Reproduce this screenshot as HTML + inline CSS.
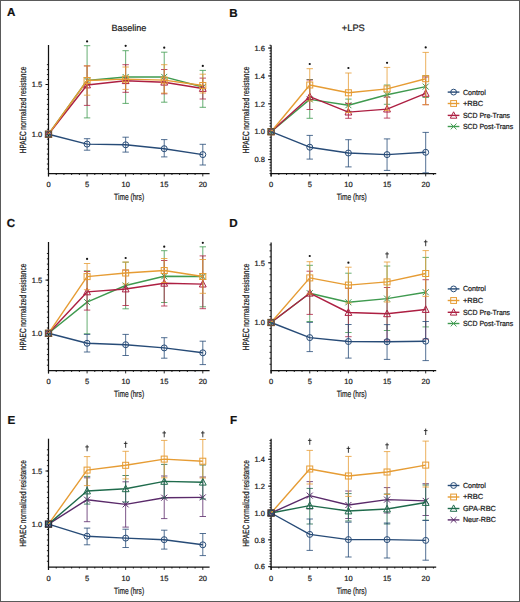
<!DOCTYPE html>
<html><head><meta charset="utf-8"><title>HPAEC normalized resistance</title>
<style>html,body{margin:0;padding:0;background:#fff;}body{width:520px;height:602px;overflow:hidden;font-family:"Liberation Sans",sans-serif;}svg{display:block;}svg text{stroke:currentColor;stroke-width:0.22px;paint-order:stroke;text-rendering:geometricPrecision;}svg{color:#1a1a1a;}</style>
</head><body>
<svg width="520" height="602" viewBox="0 0 520 602">
<rect x="0" y="0" width="520" height="602" fill="#fff"/>
<g font-family="Liberation Sans, sans-serif" font-weight="bold" font-size="11.6" fill="#111">
<text x="6.9" y="16.3">A</text>
<text x="229.3" y="16.5">B</text>
<text x="6.8" y="226.9">C</text>
<text x="229.3" y="226.6">D</text>
<text x="7.4" y="423.9">E</text>
<text x="230" y="423.9">F</text>
</g>
<text x="129" y="30.6" text-anchor="middle" font-family="Liberation Sans, sans-serif" font-size="9.1" fill="#1a1a1a">Baseline</text>
<text x="353.3" y="30.6" text-anchor="middle" font-family="Liberation Sans, sans-serif" font-size="9.3" fill="#1a1a1a">+LPS</text>
<g stroke="#111" fill="none">
<path d="M48.5 45V176.4" stroke-width="1.25"/>
<path d="M47.9 173.5H209.6" stroke-width="1.25"/>
<path d="M46.9 168.99H48.5M46.9 164.02H48.5M46.9 159.05H48.5M46.9 154.08H48.5M46.9 149.11H48.5M46.9 144.14H48.5M46.9 139.17H48.5M46.9 134.2H48.5M46.9 129.23H48.5M46.9 124.26H48.5M46.9 119.29H48.5M46.9 114.32H48.5M46.9 109.35H48.5M46.9 104.38H48.5M46.9 99.41H48.5M46.9 94.44H48.5M46.9 89.47H48.5M46.9 84.5H48.5M46.9 79.53H48.5M46.9 74.56H48.5M46.9 69.59H48.5M46.9 64.62H48.5" stroke-width="0.9"/>
<path d="M45.5 134.2H48.5M45.5 84.5H48.5" stroke-width="1"/>
<path d="M48.5 173.5V176.4M56.22 173.5V175M63.93 173.5V175M71.64 173.5V175M79.36 173.5V175M87.08 173.5V176.4M94.79 173.5V175M102.5 173.5V175M110.22 173.5V175M117.94 173.5V175M125.65 173.5V176.4M133.37 173.5V175M141.08 173.5V175M148.8 173.5V175M156.51 173.5V175M164.22 173.5V176.4M171.94 173.5V175M179.66 173.5V175M187.37 173.5V175M195.09 173.5V175M202.8 173.5V176.4" stroke-width="0.9"/>
</g>
<g font-family="Liberation Sans, sans-serif" font-size="7.5" fill="#1a1a1a">
<text x="42.3" y="136.9" text-anchor="end">1.0</text>
<text x="42.3" y="87.2" text-anchor="end">1.5</text>
<text x="48.5" y="187.1" text-anchor="middle">0</text>
<text x="87.08" y="187.1" text-anchor="middle">5</text>
<text x="125.65" y="187.1" text-anchor="middle">10</text>
<text x="164.22" y="187.1" text-anchor="middle">15</text>
<text x="202.8" y="187.1" text-anchor="middle">20</text>
</g>
<text x="114.1" y="200.3" font-family="Liberation Sans, sans-serif" font-size="9.2" fill="#1a1a1a" textLength="30" lengthAdjust="spacingAndGlyphs">Time (hrs)</text>
<text transform="translate(25.9 110) rotate(-90)" x="0" y="0" text-anchor="middle" font-family="Liberation Sans, sans-serif" font-size="9" fill="#1a1a1a" textLength="86.5" lengthAdjust="spacingAndGlyphs">HPAEC normalized resistance</text>
<path d="M87.08 45.7V117.9M83.88 45.7H90.28M83.88 117.9H90.28M125.65 50.7V103.4M122.45 50.7H128.85M122.45 103.4H128.85M164.22 52.2V102.2M161.03 52.2H167.42M161.03 102.2H167.42M202.8 70.4V107.3M199.6 70.4H206M199.6 107.3H206" stroke="#3f9a4f" stroke-width="0.8" fill="none"/>
<path d="M48.5 134.2L87.08 80.5L125.65 77L164.22 76.9L202.8 87" stroke="#3f9a4f" stroke-width="1.4" fill="none" stroke-linejoin="round"/>
<path d="M45.5 131.2L51.5 137.2M45.5 137.2L51.5 131.2" stroke="#3f9a4f" stroke-width="1.0" fill="none"/>
<path d="M84.08 77.5L90.08 83.5M84.08 83.5L90.08 77.5" stroke="#3f9a4f" stroke-width="1.0" fill="none"/>
<path d="M122.65 74L128.65 80M122.65 80L128.65 74" stroke="#3f9a4f" stroke-width="1.0" fill="none"/>
<path d="M161.22 73.9L167.22 79.9M161.22 79.9L167.22 73.9" stroke="#3f9a4f" stroke-width="1.0" fill="none"/>
<path d="M199.8 84L205.8 90M199.8 90L205.8 84" stroke="#3f9a4f" stroke-width="1.0" fill="none"/>
<path d="M87.08 65.9V105.4M83.88 65.9H90.28M83.88 105.4H90.28M125.65 64.7V92.3M122.45 64.7H128.85M122.45 92.3H128.85M164.22 69.5V93.8M161.03 69.5H167.42M161.03 93.8H167.42M202.8 78.1V99M199.6 78.1H206M199.6 99H206" stroke="#ad1f42" stroke-width="0.8" fill="none"/>
<path d="M48.5 134.2L87.08 85L125.65 80.7L164.22 82.2L202.8 88.5" stroke="#ad1f42" stroke-width="1.4" fill="none" stroke-linejoin="round"/>
<polygon points="48.5,130.5 45.1,137.1 51.9,137.1" fill="none" stroke="#ad1f42" stroke-width="1.0" stroke-linejoin="miter"/>
<polygon points="87.08,81.3 83.67,87.9 90.48,87.9" fill="none" stroke="#ad1f42" stroke-width="1.0" stroke-linejoin="miter"/>
<polygon points="125.65,77 122.25,83.6 129.05,83.6" fill="none" stroke="#ad1f42" stroke-width="1.0" stroke-linejoin="miter"/>
<polygon points="164.22,78.5 160.82,85.1 167.62,85.1" fill="none" stroke="#ad1f42" stroke-width="1.0" stroke-linejoin="miter"/>
<polygon points="202.8,84.8 199.4,91.4 206.2,91.4" fill="none" stroke="#ad1f42" stroke-width="1.0" stroke-linejoin="miter"/>
<path d="M87.08 65.9V95.2M83.88 65.9H90.28M83.88 95.2H90.28M125.65 67V89.4M122.45 67H128.85M122.45 89.4H128.85M164.22 64.7V93.1M161.03 64.7H167.42M161.03 93.1H167.42M202.8 74.2V93M199.6 74.2H206M199.6 93H206" stroke="#e69c34" stroke-width="0.8" fill="none"/>
<path d="M48.5 134.2L87.08 80.5L125.65 79.1L164.22 80.1L202.8 85.5" stroke="#e69c34" stroke-width="1.4" fill="none" stroke-linejoin="round"/>
<rect x="45.5" y="131.2" width="6" height="6" fill="none" stroke="#e69c34" stroke-width="1.0"/>
<rect x="84.08" y="77.5" width="6" height="6" fill="none" stroke="#e69c34" stroke-width="1.0"/>
<rect x="122.65" y="76.1" width="6" height="6" fill="none" stroke="#e69c34" stroke-width="1.0"/>
<rect x="161.22" y="77.1" width="6" height="6" fill="none" stroke="#e69c34" stroke-width="1.0"/>
<rect x="199.8" y="82.5" width="6" height="6" fill="none" stroke="#e69c34" stroke-width="1.0"/>
<path d="M87.08 138.7V150.2M83.88 138.7H90.28M83.88 150.2H90.28M125.65 137.2V152.1M122.45 137.2H128.85M122.45 152.1H128.85M164.22 139.6V156.9M161.03 139.6H167.42M161.03 156.9H167.42M202.8 144.3V165M199.6 144.3H206M199.6 165H206" stroke="#274b77" stroke-width="0.8" fill="none"/>
<path d="M48.5 134.2L87.08 144.1L125.65 144.8L164.22 148.7L202.8 154.6" stroke="#274b77" stroke-width="1.4" fill="none" stroke-linejoin="round"/>
<circle cx="48.5" cy="134.2" r="3" fill="none" stroke="#274b77" stroke-width="1.0"/>
<circle cx="87.08" cy="144.1" r="3" fill="none" stroke="#274b77" stroke-width="1.0"/>
<circle cx="125.65" cy="144.8" r="3" fill="none" stroke="#274b77" stroke-width="1.0"/>
<circle cx="164.22" cy="148.7" r="3" fill="none" stroke="#274b77" stroke-width="1.0"/>
<circle cx="202.8" cy="154.6" r="3" fill="none" stroke="#274b77" stroke-width="1.0"/>
<rect x="45.4" y="131.1" width="6.2" height="6.2" fill="none" stroke="#6b5238" stroke-width="1.1"/>
<circle cx="87.08" cy="41.4" r="1.1" fill="#111"/>
<circle cx="125.65" cy="45.8" r="1.1" fill="#111"/>
<circle cx="164.22" cy="47.7" r="1.1" fill="#111"/>
<circle cx="202.8" cy="65.9" r="1.1" fill="#111"/>
<g stroke="#111" fill="none">
<path d="M271.1 45.2V176.4" stroke-width="1.25"/>
<path d="M270.5 173.5H436.2" stroke-width="1.25"/>
<path d="M269.5 173.52H271.1M269.5 170.73H271.1M269.5 167.94H271.1M269.5 165.16H271.1M269.5 162.37H271.1M269.5 159.58H271.1M269.5 156.79H271.1M269.5 154H271.1M269.5 151.22H271.1M269.5 148.43H271.1M269.5 145.64H271.1M269.5 142.85H271.1M269.5 140.06H271.1M269.5 137.28H271.1M269.5 134.49H271.1M269.5 131.7H271.1M269.5 128.91H271.1M269.5 126.12H271.1M269.5 123.34H271.1M269.5 120.55H271.1M269.5 117.76H271.1M269.5 114.97H271.1M269.5 112.18H271.1M269.5 109.4H271.1M269.5 106.61H271.1M269.5 103.82H271.1M269.5 101.03H271.1M269.5 98.24H271.1M269.5 95.46H271.1M269.5 92.67H271.1M269.5 89.88H271.1M269.5 87.09H271.1M269.5 84.3H271.1M269.5 81.52H271.1M269.5 78.73H271.1M269.5 75.94H271.1M269.5 73.15H271.1M269.5 70.36H271.1M269.5 67.58H271.1M269.5 64.79H271.1M269.5 62H271.1M269.5 59.21H271.1M269.5 56.42H271.1M269.5 53.64H271.1M269.5 50.85H271.1M269.5 48.06H271.1M269.5 45.27H271.1" stroke-width="0.9"/>
<path d="M268.1 159.58H271.1M268.1 131.7H271.1M268.1 103.82H271.1M268.1 75.94H271.1M268.1 48.06H271.1" stroke-width="1"/>
<path d="M271.1 173.5V176.4M278.83 173.5V175M286.56 173.5V175M294.29 173.5V175M302.02 173.5V175M309.75 173.5V176.4M317.48 173.5V175M325.21 173.5V175M332.94 173.5V175M340.67 173.5V175M348.4 173.5V176.4M356.13 173.5V175M363.86 173.5V175M371.59 173.5V175M379.32 173.5V175M387.05 173.5V176.4M394.78 173.5V175M402.51 173.5V175M410.24 173.5V175M417.97 173.5V175M425.7 173.5V176.4M433.43 173.5V175" stroke-width="0.9"/>
</g>
<g font-family="Liberation Sans, sans-serif" font-size="7.5" fill="#1a1a1a">
<text x="264.9" y="162.28" text-anchor="end">0.8</text>
<text x="264.9" y="134.4" text-anchor="end">1.0</text>
<text x="264.9" y="106.52" text-anchor="end">1.2</text>
<text x="264.9" y="78.64" text-anchor="end">1.4</text>
<text x="264.9" y="50.76" text-anchor="end">1.6</text>
<text x="271.1" y="187.1" text-anchor="middle">0</text>
<text x="309.75" y="187.1" text-anchor="middle">5</text>
<text x="348.4" y="187.1" text-anchor="middle">10</text>
<text x="387.05" y="187.1" text-anchor="middle">15</text>
<text x="425.7" y="187.1" text-anchor="middle">20</text>
</g>
<text x="336.7" y="200.3" font-family="Liberation Sans, sans-serif" font-size="9.2" fill="#1a1a1a" textLength="30" lengthAdjust="spacingAndGlyphs">Time (hrs)</text>
<text transform="translate(248.9 110) rotate(-90)" x="0" y="0" text-anchor="middle" font-family="Liberation Sans, sans-serif" font-size="9" fill="#1a1a1a" textLength="86.5" lengthAdjust="spacingAndGlyphs">HPAEC normalized resistance</text>
<path d="M309.75 79.5V118.3M306.55 79.5H312.95M306.55 118.3H312.95M348.4 99.1V111.3M345.2 99.1H351.6M345.2 111.3H351.6M387.05 85V104.3M383.85 85H390.25M383.85 104.3H390.25M425.7 75.7V97.5M422.5 75.7H428.9M422.5 97.5H428.9" stroke="#3f9a4f" stroke-width="0.8" fill="none"/>
<path d="M271.1 131.7L309.75 99.4L348.4 105.2L387.05 94.7L425.7 86.6" stroke="#3f9a4f" stroke-width="1.4" fill="none" stroke-linejoin="round"/>
<path d="M268.1 128.7L274.1 134.7M268.1 134.7L274.1 128.7" stroke="#3f9a4f" stroke-width="1.0" fill="none"/>
<path d="M306.75 96.4L312.75 102.4M306.75 102.4L312.75 96.4" stroke="#3f9a4f" stroke-width="1.0" fill="none"/>
<path d="M345.4 102.2L351.4 108.2M345.4 108.2L351.4 102.2" stroke="#3f9a4f" stroke-width="1.0" fill="none"/>
<path d="M384.05 91.7L390.05 97.7M384.05 97.7L390.05 91.7" stroke="#3f9a4f" stroke-width="1.0" fill="none"/>
<path d="M422.7 83.6L428.7 89.6M422.7 89.6L428.7 83.6" stroke="#3f9a4f" stroke-width="1.0" fill="none"/>
<path d="M309.75 80V109.5M306.55 80H312.95M306.55 109.5H312.95M348.4 103.4V118.3M345.2 103.4H351.6M345.2 118.3H351.6M387.05 97.1V118.1M383.85 97.1H390.25M383.85 118.1H390.25M425.7 77V104.7M422.5 77H428.9M422.5 104.7H428.9" stroke="#ad1f42" stroke-width="0.8" fill="none"/>
<path d="M271.1 131.7L309.75 96.7L348.4 112.1L387.05 109.1L425.7 93.4" stroke="#ad1f42" stroke-width="1.4" fill="none" stroke-linejoin="round"/>
<polygon points="271.1,128 267.7,134.6 274.5,134.6" fill="none" stroke="#ad1f42" stroke-width="1.0" stroke-linejoin="miter"/>
<polygon points="309.75,93 306.35,99.6 313.15,99.6" fill="none" stroke="#ad1f42" stroke-width="1.0" stroke-linejoin="miter"/>
<polygon points="348.4,108.4 345,115 351.8,115" fill="none" stroke="#ad1f42" stroke-width="1.0" stroke-linejoin="miter"/>
<polygon points="387.05,105.4 383.65,112 390.45,112" fill="none" stroke="#ad1f42" stroke-width="1.0" stroke-linejoin="miter"/>
<polygon points="425.7,89.7 422.3,96.3 429.1,96.3" fill="none" stroke="#ad1f42" stroke-width="1.0" stroke-linejoin="miter"/>
<path d="M309.75 68.7V101M306.55 68.7H312.95M306.55 101H312.95M348.4 73V112.5M345.2 73H351.6M345.2 112.5H351.6M387.05 67.4V110.4M383.85 67.4H390.25M383.85 110.4H390.25M425.7 52.4V104.7M422.5 52.4H428.9M422.5 104.7H428.9" stroke="#e69c34" stroke-width="0.8" fill="none"/>
<path d="M271.1 131.7L309.75 85L348.4 92.8L387.05 88.9L425.7 78.7" stroke="#e69c34" stroke-width="1.4" fill="none" stroke-linejoin="round"/>
<rect x="268.1" y="128.7" width="6" height="6" fill="none" stroke="#e69c34" stroke-width="1.0"/>
<rect x="306.75" y="82" width="6" height="6" fill="none" stroke="#e69c34" stroke-width="1.0"/>
<rect x="345.4" y="89.8" width="6" height="6" fill="none" stroke="#e69c34" stroke-width="1.0"/>
<rect x="384.05" y="85.9" width="6" height="6" fill="none" stroke="#e69c34" stroke-width="1.0"/>
<rect x="422.7" y="75.7" width="6" height="6" fill="none" stroke="#e69c34" stroke-width="1.0"/>
<path d="M309.75 135.4V159.1M306.55 135.4H312.95M306.55 159.1H312.95M348.4 139.7V166.9M345.2 139.7H351.6M345.2 166.9H351.6M387.05 138.9V170.4M383.85 138.9H390.25M383.85 170.4H390.25M425.7 132.4V172.8M422.5 132.4H428.9M422.5 172.8H428.9" stroke="#274b77" stroke-width="0.8" fill="none"/>
<path d="M271.1 131.7L309.75 147.2L348.4 153L387.05 154.6L425.7 152.3" stroke="#274b77" stroke-width="1.4" fill="none" stroke-linejoin="round"/>
<circle cx="271.1" cy="131.7" r="3" fill="none" stroke="#274b77" stroke-width="1.0"/>
<circle cx="309.75" cy="147.2" r="3" fill="none" stroke="#274b77" stroke-width="1.0"/>
<circle cx="348.4" cy="153" r="3" fill="none" stroke="#274b77" stroke-width="1.0"/>
<circle cx="387.05" cy="154.6" r="3" fill="none" stroke="#274b77" stroke-width="1.0"/>
<circle cx="425.7" cy="152.3" r="3" fill="none" stroke="#274b77" stroke-width="1.0"/>
<rect x="268" y="128.6" width="6.2" height="6.2" fill="none" stroke="#6b5238" stroke-width="1.1"/>
<circle cx="309.75" cy="64" r="1.1" fill="#111"/>
<circle cx="348.4" cy="68" r="1.1" fill="#111"/>
<circle cx="387.05" cy="62.8" r="1.1" fill="#111"/>
<circle cx="425.7" cy="47.4" r="1.1" fill="#111"/>
<g font-family="Liberation Sans, sans-serif" font-size="7.4" fill="#1a1a1a">
<path d="M447.7 92.1H459.4" stroke="#274b77" stroke-width="1.4"/>
<circle cx="453.6" cy="92.1" r="2.9" fill="none" stroke="#274b77" stroke-width="1.0"/>
<text x="462.9" y="94.5" textLength="23" lengthAdjust="spacingAndGlyphs">Control</text>
<path d="M447.7 103.5H459.4" stroke="#e69c34" stroke-width="1.4"/>
<rect x="450.7" y="100.6" width="5.8" height="5.8" fill="none" stroke="#e69c34" stroke-width="1.0"/>
<text x="462.9" y="105.9" textLength="20.4" lengthAdjust="spacingAndGlyphs">+RBC</text>
<path d="M447.7 115.4H459.4" stroke="#ad1f42" stroke-width="1.4"/>
<polygon points="453.6,111.81 450.3,118.19 456.9,118.19" fill="none" stroke="#ad1f42" stroke-width="1.0" stroke-linejoin="miter"/>
<text x="462.9" y="117.8" textLength="47.2" lengthAdjust="spacingAndGlyphs">SCD Pre-Trans</text>
<path d="M447.7 126.5H459.4" stroke="#3f9a4f" stroke-width="1.4"/>
<path d="M450.7 123.6L456.5 129.4M450.7 129.4L456.5 123.6" stroke="#3f9a4f" stroke-width="1.0" fill="none"/>
<text x="462.9" y="128.9" textLength="50.3" lengthAdjust="spacingAndGlyphs">SCD Post-Trans</text>
</g>
<g stroke="#111" fill="none">
<path d="M48.5 242V373.4" stroke-width="1.25"/>
<path d="M47.9 370.5H209.6" stroke-width="1.25"/>
<path d="M46.9 365.22H48.5M46.9 359.9H48.5M46.9 354.58H48.5M46.9 349.26H48.5M46.9 343.94H48.5M46.9 338.62H48.5M46.9 333.3H48.5M46.9 327.98H48.5M46.9 322.66H48.5M46.9 317.34H48.5M46.9 312.02H48.5M46.9 306.7H48.5M46.9 301.38H48.5M46.9 296.06H48.5M46.9 290.74H48.5M46.9 285.42H48.5M46.9 280.1H48.5M46.9 274.78H48.5M46.9 269.46H48.5M46.9 264.14H48.5M46.9 258.82H48.5M46.9 253.5H48.5" stroke-width="0.9"/>
<path d="M45.5 333.3H48.5M45.5 280.1H48.5" stroke-width="1"/>
<path d="M48.5 370.5V373.4M56.22 370.5V372M63.93 370.5V372M71.64 370.5V372M79.36 370.5V372M87.08 370.5V373.4M94.79 370.5V372M102.5 370.5V372M110.22 370.5V372M117.94 370.5V372M125.65 370.5V373.4M133.37 370.5V372M141.08 370.5V372M148.8 370.5V372M156.51 370.5V372M164.22 370.5V373.4M171.94 370.5V372M179.66 370.5V372M187.37 370.5V372M195.09 370.5V372M202.8 370.5V373.4" stroke-width="0.9"/>
</g>
<g font-family="Liberation Sans, sans-serif" font-size="7.5" fill="#1a1a1a">
<text x="42.3" y="336" text-anchor="end">1.0</text>
<text x="42.3" y="282.8" text-anchor="end">1.5</text>
<text x="48.5" y="384.1" text-anchor="middle">0</text>
<text x="87.08" y="384.1" text-anchor="middle">5</text>
<text x="125.65" y="384.1" text-anchor="middle">10</text>
<text x="164.22" y="384.1" text-anchor="middle">15</text>
<text x="202.8" y="384.1" text-anchor="middle">20</text>
</g>
<text x="114.1" y="397.3" font-family="Liberation Sans, sans-serif" font-size="9.2" fill="#1a1a1a" textLength="30" lengthAdjust="spacingAndGlyphs">Time (hrs)</text>
<text transform="translate(25.9 307) rotate(-90)" x="0" y="0" text-anchor="middle" font-family="Liberation Sans, sans-serif" font-size="9" fill="#1a1a1a" textLength="86.5" lengthAdjust="spacingAndGlyphs">HPAEC normalized resistance</text>
<path d="M87.08 270.8V333.8M83.88 270.8H90.28M83.88 333.8H90.28M125.65 262.2V308.8M122.45 262.2H128.85M122.45 308.8H128.85M164.22 250.7V302.5M161.03 250.7H167.42M161.03 302.5H167.42M202.8 246.8V306.8M199.6 246.8H206M199.6 306.8H206" stroke="#3f9a4f" stroke-width="0.8" fill="none"/>
<path d="M48.5 333.3L87.08 302.1L125.65 285.5L164.22 276.3L202.8 276.5" stroke="#3f9a4f" stroke-width="1.4" fill="none" stroke-linejoin="round"/>
<path d="M45.5 330.3L51.5 336.3M45.5 336.3L51.5 330.3" stroke="#3f9a4f" stroke-width="1.0" fill="none"/>
<path d="M84.08 299.1L90.08 305.1M84.08 305.1L90.08 299.1" stroke="#3f9a4f" stroke-width="1.0" fill="none"/>
<path d="M122.65 282.5L128.65 288.5M122.65 288.5L128.65 282.5" stroke="#3f9a4f" stroke-width="1.0" fill="none"/>
<path d="M161.22 273.3L167.22 279.3M161.22 279.3L167.22 273.3" stroke="#3f9a4f" stroke-width="1.0" fill="none"/>
<path d="M199.8 273.5L205.8 279.5M199.8 279.5L205.8 273.5" stroke="#3f9a4f" stroke-width="1.0" fill="none"/>
<path d="M87.08 271.5V310.1M83.88 271.5H90.28M83.88 310.1H90.28M125.65 270V305.5M122.45 270H128.85M122.45 305.5H128.85M164.22 260.5V306M161.03 260.5H167.42M161.03 306H167.42M202.8 255.9V308.7M199.6 255.9H206M199.6 308.7H206" stroke="#ad1f42" stroke-width="0.8" fill="none"/>
<path d="M48.5 333.3L87.08 291.9L125.65 289L164.22 283.3L202.8 284.1" stroke="#ad1f42" stroke-width="1.4" fill="none" stroke-linejoin="round"/>
<polygon points="48.5,329.6 45.1,336.2 51.9,336.2" fill="none" stroke="#ad1f42" stroke-width="1.0" stroke-linejoin="miter"/>
<polygon points="87.08,288.2 83.67,294.8 90.48,294.8" fill="none" stroke="#ad1f42" stroke-width="1.0" stroke-linejoin="miter"/>
<polygon points="125.65,285.3 122.25,291.9 129.05,291.9" fill="none" stroke="#ad1f42" stroke-width="1.0" stroke-linejoin="miter"/>
<polygon points="164.22,279.6 160.82,286.2 167.62,286.2" fill="none" stroke="#ad1f42" stroke-width="1.0" stroke-linejoin="miter"/>
<polygon points="202.8,280.4 199.4,287 206.2,287" fill="none" stroke="#ad1f42" stroke-width="1.0" stroke-linejoin="miter"/>
<path d="M87.08 263.5V289.7M83.88 263.5H90.28M83.88 289.7H90.28M125.65 262V284M122.45 262H128.85M122.45 284H128.85M164.22 258.5V282.5M161.03 258.5H167.42M161.03 282.5H167.42M202.8 259.5V293.3M199.6 259.5H206M199.6 293.3H206" stroke="#e69c34" stroke-width="0.8" fill="none"/>
<path d="M48.5 333.3L87.08 276.6L125.65 273L164.22 270.5L202.8 276.5" stroke="#e69c34" stroke-width="1.4" fill="none" stroke-linejoin="round"/>
<rect x="45.5" y="330.3" width="6" height="6" fill="none" stroke="#e69c34" stroke-width="1.0"/>
<rect x="84.08" y="273.6" width="6" height="6" fill="none" stroke="#e69c34" stroke-width="1.0"/>
<rect x="122.65" y="270" width="6" height="6" fill="none" stroke="#e69c34" stroke-width="1.0"/>
<rect x="161.22" y="267.5" width="6" height="6" fill="none" stroke="#e69c34" stroke-width="1.0"/>
<rect x="199.8" y="273.5" width="6" height="6" fill="none" stroke="#e69c34" stroke-width="1.0"/>
<path d="M87.08 334.4V352M83.88 334.4H90.28M83.88 352H90.28M125.65 334.4V355.5M122.45 334.4H128.85M122.45 355.5H128.85M164.22 337.7V358.2M161.03 337.7H167.42M161.03 358.2H167.42M202.8 341.2V364.6M199.6 341.2H206M199.6 364.6H206" stroke="#274b77" stroke-width="0.8" fill="none"/>
<path d="M48.5 333.3L87.08 343.3L125.65 344.7L164.22 347.9L202.8 352.8" stroke="#274b77" stroke-width="1.4" fill="none" stroke-linejoin="round"/>
<circle cx="48.5" cy="333.3" r="3" fill="none" stroke="#274b77" stroke-width="1.0"/>
<circle cx="87.08" cy="343.3" r="3" fill="none" stroke="#274b77" stroke-width="1.0"/>
<circle cx="125.65" cy="344.7" r="3" fill="none" stroke="#274b77" stroke-width="1.0"/>
<circle cx="164.22" cy="347.9" r="3" fill="none" stroke="#274b77" stroke-width="1.0"/>
<circle cx="202.8" cy="352.8" r="3" fill="none" stroke="#274b77" stroke-width="1.0"/>
<rect x="45.4" y="330.2" width="6.2" height="6.2" fill="none" stroke="#6b5238" stroke-width="1.1"/>
<circle cx="87.08" cy="258.9" r="1.1" fill="#111"/>
<circle cx="125.65" cy="258" r="1.1" fill="#111"/>
<circle cx="164.22" cy="246.7" r="1.1" fill="#111"/>
<circle cx="202.8" cy="242.8" r="1.1" fill="#111"/>
<g stroke="#111" fill="none">
<path d="M271.1 242.4V373.4" stroke-width="1.25"/>
<path d="M270.5 370.5H436.2" stroke-width="1.25"/>
<path d="M269.5 364.29H271.1M269.5 358.32H271.1M269.5 352.35H271.1M269.5 346.38H271.1M269.5 340.41H271.1M269.5 334.44H271.1M269.5 328.47H271.1M269.5 322.5H271.1M269.5 316.53H271.1M269.5 310.56H271.1M269.5 304.59H271.1M269.5 298.62H271.1M269.5 292.65H271.1M269.5 286.68H271.1M269.5 280.71H271.1M269.5 274.74H271.1M269.5 268.77H271.1M269.5 262.8H271.1M269.5 256.83H271.1M269.5 250.86H271.1M269.5 244.89H271.1" stroke-width="0.9"/>
<path d="M268.1 322.5H271.1M268.1 262.8H271.1" stroke-width="1"/>
<path d="M271.1 370.5V373.4M278.83 370.5V372M286.56 370.5V372M294.29 370.5V372M302.02 370.5V372M309.75 370.5V373.4M317.48 370.5V372M325.21 370.5V372M332.94 370.5V372M340.67 370.5V372M348.4 370.5V373.4M356.13 370.5V372M363.86 370.5V372M371.59 370.5V372M379.32 370.5V372M387.05 370.5V373.4M394.78 370.5V372M402.51 370.5V372M410.24 370.5V372M417.97 370.5V372M425.7 370.5V373.4M433.43 370.5V372" stroke-width="0.9"/>
</g>
<g font-family="Liberation Sans, sans-serif" font-size="7.5" fill="#1a1a1a">
<text x="264.9" y="325.2" text-anchor="end">1.0</text>
<text x="264.9" y="265.5" text-anchor="end">1.5</text>
<text x="271.1" y="384.1" text-anchor="middle">0</text>
<text x="309.75" y="384.1" text-anchor="middle">5</text>
<text x="348.4" y="384.1" text-anchor="middle">10</text>
<text x="387.05" y="384.1" text-anchor="middle">15</text>
<text x="425.7" y="384.1" text-anchor="middle">20</text>
</g>
<text x="336.7" y="397.3" font-family="Liberation Sans, sans-serif" font-size="9.2" fill="#1a1a1a" textLength="30" lengthAdjust="spacingAndGlyphs">Time (hrs)</text>
<text transform="translate(248.9 307) rotate(-90)" x="0" y="0" text-anchor="middle" font-family="Liberation Sans, sans-serif" font-size="9" fill="#1a1a1a" textLength="86.5" lengthAdjust="spacingAndGlyphs">HPAEC normalized resistance</text>
<path d="M309.75 265.3V321.5M306.55 265.3H312.95M306.55 321.5H312.95M348.4 273.2V332.5M345.2 273.2H351.6M345.2 332.5H351.6M387.05 266V330.5M383.85 266H390.25M383.85 330.5H390.25M425.7 257.4V326.9M422.5 257.4H428.9M422.5 326.9H428.9" stroke="#3f9a4f" stroke-width="0.8" fill="none"/>
<path d="M271.1 322.5L309.75 293.2L348.4 302.3L387.05 298.6L425.7 292.2" stroke="#3f9a4f" stroke-width="1.4" fill="none" stroke-linejoin="round"/>
<path d="M268.1 319.5L274.1 325.5M268.1 325.5L274.1 319.5" stroke="#3f9a4f" stroke-width="1.0" fill="none"/>
<path d="M306.75 290.2L312.75 296.2M306.75 296.2L312.75 290.2" stroke="#3f9a4f" stroke-width="1.0" fill="none"/>
<path d="M345.4 299.3L351.4 305.3M345.4 305.3L351.4 299.3" stroke="#3f9a4f" stroke-width="1.0" fill="none"/>
<path d="M384.05 295.6L390.05 301.6M384.05 301.6L390.05 295.6" stroke="#3f9a4f" stroke-width="1.0" fill="none"/>
<path d="M422.7 289.2L428.7 295.2M422.7 295.2L428.7 289.2" stroke="#3f9a4f" stroke-width="1.0" fill="none"/>
<path d="M309.75 271.2V314.4M306.55 271.2H312.95M306.55 314.4H312.95M348.4 288.3V336.7M345.2 288.3H351.6M345.2 336.7H351.6M387.05 287.5V340M383.85 287.5H390.25M383.85 340H390.25M425.7 279.7V339M422.5 279.7H428.9M422.5 339H428.9" stroke="#ad1f42" stroke-width="0.8" fill="none"/>
<path d="M271.1 322.5L309.75 293.2L348.4 312.5L387.05 313.8L425.7 309.5" stroke="#ad1f42" stroke-width="1.4" fill="none" stroke-linejoin="round"/>
<polygon points="271.1,318.8 267.7,325.4 274.5,325.4" fill="none" stroke="#ad1f42" stroke-width="1.0" stroke-linejoin="miter"/>
<polygon points="309.75,289.5 306.35,296.1 313.15,296.1" fill="none" stroke="#ad1f42" stroke-width="1.0" stroke-linejoin="miter"/>
<polygon points="348.4,308.8 345,315.4 351.8,315.4" fill="none" stroke="#ad1f42" stroke-width="1.0" stroke-linejoin="miter"/>
<polygon points="387.05,310.1 383.65,316.7 390.45,316.7" fill="none" stroke="#ad1f42" stroke-width="1.0" stroke-linejoin="miter"/>
<polygon points="425.7,305.8 422.3,312.4 429.1,312.4" fill="none" stroke="#ad1f42" stroke-width="1.0" stroke-linejoin="miter"/>
<path d="M309.75 261.7V294M306.55 261.7H312.95M306.55 294H312.95M348.4 267.2V303M345.2 267.2H351.6M345.2 303H351.6M387.05 262V302M383.85 262H390.25M383.85 302H390.25M425.7 250.6V296.4M422.5 250.6H428.9M422.5 296.4H428.9" stroke="#e69c34" stroke-width="0.8" fill="none"/>
<path d="M271.1 322.5L309.75 277.9L348.4 285.1L387.05 281.9L425.7 273.5" stroke="#e69c34" stroke-width="1.4" fill="none" stroke-linejoin="round"/>
<rect x="268.1" y="319.5" width="6" height="6" fill="none" stroke="#e69c34" stroke-width="1.0"/>
<rect x="306.75" y="274.9" width="6" height="6" fill="none" stroke="#e69c34" stroke-width="1.0"/>
<rect x="345.4" y="282.1" width="6" height="6" fill="none" stroke="#e69c34" stroke-width="1.0"/>
<rect x="384.05" y="278.9" width="6" height="6" fill="none" stroke="#e69c34" stroke-width="1.0"/>
<rect x="422.7" y="270.5" width="6" height="6" fill="none" stroke="#e69c34" stroke-width="1.0"/>
<path d="M309.75 322.4V351.6M306.55 322.4H312.95M306.55 351.6H312.95M348.4 324.5V358.1M345.2 324.5H351.6M345.2 358.1H351.6M387.05 324.6V359.4M383.85 324.6H390.25M383.85 359.4H390.25M425.7 321.5V360.6M422.5 321.5H428.9M422.5 360.6H428.9" stroke="#274b77" stroke-width="0.8" fill="none"/>
<path d="M271.1 322.5L309.75 337.6L348.4 341.5L387.05 341.7L425.7 341.2" stroke="#274b77" stroke-width="1.4" fill="none" stroke-linejoin="round"/>
<circle cx="271.1" cy="322.5" r="3" fill="none" stroke="#274b77" stroke-width="1.0"/>
<circle cx="309.75" cy="337.6" r="3" fill="none" stroke="#274b77" stroke-width="1.0"/>
<circle cx="348.4" cy="341.5" r="3" fill="none" stroke="#274b77" stroke-width="1.0"/>
<circle cx="387.05" cy="341.7" r="3" fill="none" stroke="#274b77" stroke-width="1.0"/>
<circle cx="425.7" cy="341.2" r="3" fill="none" stroke="#274b77" stroke-width="1.0"/>
<rect x="268" y="319.4" width="6.2" height="6.2" fill="none" stroke="#6b5238" stroke-width="1.1"/>
<circle cx="309.75" cy="256" r="1.1" fill="#111"/>
<circle cx="348.4" cy="262.7" r="1.1" fill="#111"/>
<path d="M387.05 251.9V258.3M385.25 253.9H388.85" stroke="#222" stroke-width="0.9" fill="none"/>
<path d="M425.7 239.8V246.2M423.9 241.8H427.5" stroke="#222" stroke-width="0.9" fill="none"/>
<g font-family="Liberation Sans, sans-serif" font-size="7.4" fill="#1a1a1a">
<path d="M447.7 288.9H459.4" stroke="#274b77" stroke-width="1.4"/>
<circle cx="453.6" cy="288.9" r="2.9" fill="none" stroke="#274b77" stroke-width="1.0"/>
<text x="462.9" y="291.3" textLength="23" lengthAdjust="spacingAndGlyphs">Control</text>
<path d="M447.7 300.5H459.4" stroke="#e69c34" stroke-width="1.4"/>
<rect x="450.7" y="297.6" width="5.8" height="5.8" fill="none" stroke="#e69c34" stroke-width="1.0"/>
<text x="462.9" y="302.9" textLength="20.4" lengthAdjust="spacingAndGlyphs">+RBC</text>
<path d="M447.7 312.3H459.4" stroke="#ad1f42" stroke-width="1.4"/>
<polygon points="453.6,308.71 450.3,315.09 456.9,315.09" fill="none" stroke="#ad1f42" stroke-width="1.0" stroke-linejoin="miter"/>
<text x="462.9" y="314.7" textLength="47.2" lengthAdjust="spacingAndGlyphs">SCD Pre-Trans</text>
<path d="M447.7 323.5H459.4" stroke="#3f9a4f" stroke-width="1.4"/>
<path d="M450.7 320.6L456.5 326.4M450.7 326.4L456.5 320.6" stroke="#3f9a4f" stroke-width="1.0" fill="none"/>
<text x="462.9" y="325.9" textLength="50.3" lengthAdjust="spacingAndGlyphs">SCD Post-Trans</text>
</g>
<g stroke="#111" fill="none">
<path d="M48.5 438.7V569.9" stroke-width="1.25"/>
<path d="M47.9 567H209.6" stroke-width="1.25"/>
<path d="M46.9 561.27H48.5M46.9 555.96H48.5M46.9 550.65H48.5M46.9 545.34H48.5M46.9 540.03H48.5M46.9 534.72H48.5M46.9 529.41H48.5M46.9 524.1H48.5M46.9 518.79H48.5M46.9 513.48H48.5M46.9 508.17H48.5M46.9 502.86H48.5M46.9 497.55H48.5M46.9 492.24H48.5M46.9 486.93H48.5M46.9 481.62H48.5M46.9 476.31H48.5M46.9 471H48.5M46.9 465.69H48.5M46.9 460.38H48.5M46.9 455.07H48.5M46.9 449.76H48.5" stroke-width="0.9"/>
<path d="M45.5 524.1H48.5M45.5 471H48.5" stroke-width="1"/>
<path d="M48.5 567V569.9M56.22 567V568.5M63.93 567V568.5M71.64 567V568.5M79.36 567V568.5M87.08 567V569.9M94.79 567V568.5M102.5 567V568.5M110.22 567V568.5M117.94 567V568.5M125.65 567V569.9M133.37 567V568.5M141.08 567V568.5M148.8 567V568.5M156.51 567V568.5M164.22 567V569.9M171.94 567V568.5M179.66 567V568.5M187.37 567V568.5M195.09 567V568.5M202.8 567V569.9" stroke-width="0.9"/>
</g>
<g font-family="Liberation Sans, sans-serif" font-size="7.5" fill="#1a1a1a">
<text x="42.3" y="526.8" text-anchor="end">1.0</text>
<text x="42.3" y="473.7" text-anchor="end">1.5</text>
<text x="48.5" y="580.6" text-anchor="middle">0</text>
<text x="87.08" y="580.6" text-anchor="middle">5</text>
<text x="125.65" y="580.6" text-anchor="middle">10</text>
<text x="164.22" y="580.6" text-anchor="middle">15</text>
<text x="202.8" y="580.6" text-anchor="middle">20</text>
</g>
<text x="114.1" y="593.8" font-family="Liberation Sans, sans-serif" font-size="9.2" fill="#1a1a1a" textLength="30" lengthAdjust="spacingAndGlyphs">Time (hrs)</text>
<text transform="translate(25.9 503.5) rotate(-90)" x="0" y="0" text-anchor="middle" font-family="Liberation Sans, sans-serif" font-size="9" fill="#1a1a1a" textLength="86.5" lengthAdjust="spacingAndGlyphs">HPAEC normalized resistance</text>
<path d="M87.08 477.8V521.7M83.88 477.8H90.28M83.88 521.7H90.28M125.65 481.8V527.1M122.45 481.8H128.85M122.45 527.1H128.85M164.22 476V518.6M161.03 476H167.42M161.03 518.6H167.42M202.8 477V516.5M199.6 477H206M199.6 516.5H206" stroke="#5a2a6a" stroke-width="0.8" fill="none"/>
<path d="M48.5 524.1L87.08 499.7L125.65 504.4L164.22 497.7L202.8 497.4" stroke="#5a2a6a" stroke-width="1.4" fill="none" stroke-linejoin="round"/>
<path d="M45.5 521.1L51.5 527.1M45.5 527.1L51.5 521.1" stroke="#5a2a6a" stroke-width="1.0" fill="none"/>
<path d="M84.08 496.7L90.08 502.7M84.08 502.7L90.08 496.7" stroke="#5a2a6a" stroke-width="1.0" fill="none"/>
<path d="M122.65 501.4L128.65 507.4M122.65 507.4L128.65 501.4" stroke="#5a2a6a" stroke-width="1.0" fill="none"/>
<path d="M161.22 494.7L167.22 500.7M161.22 500.7L167.22 494.7" stroke="#5a2a6a" stroke-width="1.0" fill="none"/>
<path d="M199.8 494.4L205.8 500.4M199.8 500.4L205.8 494.4" stroke="#5a2a6a" stroke-width="1.0" fill="none"/>
<path d="M87.08 476.4V504.1M83.88 476.4H90.28M83.88 504.1H90.28M125.65 475.5V502M122.45 475.5H128.85M122.45 502H128.85M164.22 464.4V498M161.03 464.4H167.42M161.03 498H167.42M202.8 465V499M199.6 465H206M199.6 499H206" stroke="#1f6b4c" stroke-width="0.8" fill="none"/>
<path d="M48.5 524.1L87.08 491L125.65 488.8L164.22 481.4L202.8 482.2" stroke="#1f6b4c" stroke-width="1.4" fill="none" stroke-linejoin="round"/>
<polygon points="48.5,520.4 45.1,527 51.9,527" fill="none" stroke="#1f6b4c" stroke-width="1.0" stroke-linejoin="miter"/>
<polygon points="87.08,487.3 83.67,493.9 90.48,493.9" fill="none" stroke="#1f6b4c" stroke-width="1.0" stroke-linejoin="miter"/>
<polygon points="125.65,485.1 122.25,491.7 129.05,491.7" fill="none" stroke="#1f6b4c" stroke-width="1.0" stroke-linejoin="miter"/>
<polygon points="164.22,477.7 160.82,484.3 167.62,484.3" fill="none" stroke="#1f6b4c" stroke-width="1.0" stroke-linejoin="miter"/>
<polygon points="202.8,478.5 199.4,485.1 206.2,485.1" fill="none" stroke="#1f6b4c" stroke-width="1.0" stroke-linejoin="miter"/>
<path d="M87.08 456.6V485.6M83.88 456.6H90.28M83.88 485.6H90.28M125.65 451.3V478.9M122.45 451.3H128.85M122.45 478.9H128.85M164.22 440.4V477.8M161.03 440.4H167.42M161.03 477.8H167.42M202.8 439.5V478M199.6 439.5H206M199.6 478H206" stroke="#e69c34" stroke-width="0.8" fill="none"/>
<path d="M48.5 524.1L87.08 470.1L125.65 465.3L164.22 459.1L202.8 461.2" stroke="#e69c34" stroke-width="1.4" fill="none" stroke-linejoin="round"/>
<rect x="45.5" y="521.1" width="6" height="6" fill="none" stroke="#e69c34" stroke-width="1.0"/>
<rect x="84.08" y="467.1" width="6" height="6" fill="none" stroke="#e69c34" stroke-width="1.0"/>
<rect x="122.65" y="462.3" width="6" height="6" fill="none" stroke="#e69c34" stroke-width="1.0"/>
<rect x="161.22" y="456.1" width="6" height="6" fill="none" stroke="#e69c34" stroke-width="1.0"/>
<rect x="199.8" y="458.2" width="6" height="6" fill="none" stroke="#e69c34" stroke-width="1.0"/>
<path d="M87.08 528.1V544.8M83.88 528.1H90.28M83.88 544.8H90.28M125.65 529.2V547.5M122.45 529.2H128.85M122.45 547.5H128.85M164.22 530.2V549.1M161.03 530.2H167.42M161.03 549.1H167.42M202.8 533.5V555.6M199.6 533.5H206M199.6 555.6H206" stroke="#274b77" stroke-width="0.8" fill="none"/>
<path d="M48.5 524.1L87.08 536.2L125.65 538.1L164.22 539.7L202.8 544.8" stroke="#274b77" stroke-width="1.4" fill="none" stroke-linejoin="round"/>
<circle cx="48.5" cy="524.1" r="3" fill="none" stroke="#274b77" stroke-width="1.0"/>
<circle cx="87.08" cy="536.2" r="3" fill="none" stroke="#274b77" stroke-width="1.0"/>
<circle cx="125.65" cy="538.1" r="3" fill="none" stroke="#274b77" stroke-width="1.0"/>
<circle cx="164.22" cy="539.7" r="3" fill="none" stroke="#274b77" stroke-width="1.0"/>
<circle cx="202.8" cy="544.8" r="3" fill="none" stroke="#274b77" stroke-width="1.0"/>
<rect x="45.4" y="521" width="6.2" height="6.2" fill="none" stroke="#2c2a3c" stroke-width="1.1"/>
<path d="M87.08 444.9V451.3M85.28 446.9H88.88" stroke="#222" stroke-width="0.9" fill="none"/>
<path d="M125.65 441.4V447.8M123.85 443.4H127.45" stroke="#222" stroke-width="0.9" fill="none"/>
<path d="M164.22 430.9V437.3M162.42 432.9H166.03" stroke="#222" stroke-width="0.9" fill="none"/>
<path d="M202.8 430.9V437.3M201 432.9H204.6" stroke="#222" stroke-width="0.9" fill="none"/>
<g stroke="#111" fill="none">
<path d="M271.1 438.7V569.9" stroke-width="1.25"/>
<path d="M270.5 567H436.2" stroke-width="1.25"/>
<path d="M269.5 566.7H271.1M269.5 564.01H271.1M269.5 561.33H271.1M269.5 558.64H271.1M269.5 555.96H271.1M269.5 553.27H271.1M269.5 550.59H271.1M269.5 547.9H271.1M269.5 545.22H271.1M269.5 542.53H271.1M269.5 539.85H271.1M269.5 537.16H271.1M269.5 534.48H271.1M269.5 531.79H271.1M269.5 529.11H271.1M269.5 526.42H271.1M269.5 523.74H271.1M269.5 521.05H271.1M269.5 518.37H271.1M269.5 515.68H271.1M269.5 513H271.1M269.5 510.31H271.1M269.5 507.63H271.1M269.5 504.94H271.1M269.5 502.26H271.1M269.5 499.57H271.1M269.5 496.89H271.1M269.5 494.2H271.1M269.5 491.52H271.1M269.5 488.83H271.1M269.5 486.15H271.1M269.5 483.46H271.1M269.5 480.78H271.1M269.5 478.09H271.1M269.5 475.41H271.1M269.5 472.72H271.1M269.5 470.04H271.1M269.5 467.35H271.1M269.5 464.67H271.1M269.5 461.98H271.1M269.5 459.3H271.1M269.5 456.61H271.1M269.5 453.93H271.1M269.5 451.24H271.1M269.5 448.56H271.1M269.5 445.87H271.1M269.5 443.19H271.1M269.5 440.5H271.1" stroke-width="0.9"/>
<path d="M268.1 566.7H271.1M268.1 539.85H271.1M268.1 513H271.1M268.1 486.15H271.1M268.1 459.3H271.1" stroke-width="1"/>
<path d="M271.1 567V569.9M278.83 567V568.5M286.56 567V568.5M294.29 567V568.5M302.02 567V568.5M309.75 567V569.9M317.48 567V568.5M325.21 567V568.5M332.94 567V568.5M340.67 567V568.5M348.4 567V569.9M356.13 567V568.5M363.86 567V568.5M371.59 567V568.5M379.32 567V568.5M387.05 567V569.9M394.78 567V568.5M402.51 567V568.5M410.24 567V568.5M417.97 567V568.5M425.7 567V569.9M433.43 567V568.5" stroke-width="0.9"/>
</g>
<g font-family="Liberation Sans, sans-serif" font-size="7.5" fill="#1a1a1a">
<text x="264.9" y="569.4" text-anchor="end">0.6</text>
<text x="264.9" y="542.55" text-anchor="end">0.8</text>
<text x="264.9" y="515.7" text-anchor="end">1.0</text>
<text x="264.9" y="488.85" text-anchor="end">1.2</text>
<text x="264.9" y="462" text-anchor="end">1.4</text>
<text x="271.1" y="580.6" text-anchor="middle">0</text>
<text x="309.75" y="580.6" text-anchor="middle">5</text>
<text x="348.4" y="580.6" text-anchor="middle">10</text>
<text x="387.05" y="580.6" text-anchor="middle">15</text>
<text x="425.7" y="580.6" text-anchor="middle">20</text>
</g>
<text x="336.7" y="593.8" font-family="Liberation Sans, sans-serif" font-size="9.2" fill="#1a1a1a" textLength="30" lengthAdjust="spacingAndGlyphs">Time (hrs)</text>
<text transform="translate(248.9 503.5) rotate(-90)" x="0" y="0" text-anchor="middle" font-family="Liberation Sans, sans-serif" font-size="9" fill="#1a1a1a" textLength="86.5" lengthAdjust="spacingAndGlyphs">HPAEC normalized resistance</text>
<path d="M309.75 481.6V509M306.55 481.6H312.95M306.55 509H312.95M348.4 491V518.5M345.2 491H351.6M345.2 518.5H351.6M387.05 487.6V513M383.85 487.6H390.25M383.85 513H390.25M425.7 483.7V515.5M422.5 483.7H428.9M422.5 515.5H428.9" stroke="#5a2a6a" stroke-width="0.8" fill="none"/>
<path d="M271.1 513L309.75 495.6L348.4 505L387.05 499.6L425.7 500.9" stroke="#5a2a6a" stroke-width="1.4" fill="none" stroke-linejoin="round"/>
<path d="M268.1 510L274.1 516M268.1 516L274.1 510" stroke="#5a2a6a" stroke-width="1.0" fill="none"/>
<path d="M306.75 492.6L312.75 498.6M306.75 498.6L312.75 492.6" stroke="#5a2a6a" stroke-width="1.0" fill="none"/>
<path d="M345.4 502L351.4 508M345.4 508L351.4 502" stroke="#5a2a6a" stroke-width="1.0" fill="none"/>
<path d="M384.05 496.6L390.05 502.6M384.05 502.6L390.05 496.6" stroke="#5a2a6a" stroke-width="1.0" fill="none"/>
<path d="M422.7 497.9L428.7 503.9M422.7 503.9L428.7 497.9" stroke="#5a2a6a" stroke-width="1.0" fill="none"/>
<path d="M309.75 488.4V524M306.55 488.4H312.95M306.55 524H312.95M348.4 493.6V521M345.2 493.6H351.6M345.2 521H351.6M387.05 494V524M383.85 494H390.25M383.85 524H390.25M425.7 485V520.2M422.5 485H428.9M422.5 520.2H428.9" stroke="#1f6b4c" stroke-width="0.8" fill="none"/>
<path d="M271.1 513L309.75 505.6L348.4 511L387.05 509L425.7 502.5" stroke="#1f6b4c" stroke-width="1.4" fill="none" stroke-linejoin="round"/>
<polygon points="271.1,509.3 267.7,515.9 274.5,515.9" fill="none" stroke="#1f6b4c" stroke-width="1.0" stroke-linejoin="miter"/>
<polygon points="309.75,501.9 306.35,508.5 313.15,508.5" fill="none" stroke="#1f6b4c" stroke-width="1.0" stroke-linejoin="miter"/>
<polygon points="348.4,507.3 345,513.9 351.8,513.9" fill="none" stroke="#1f6b4c" stroke-width="1.0" stroke-linejoin="miter"/>
<polygon points="387.05,505.3 383.65,511.9 390.45,511.9" fill="none" stroke="#1f6b4c" stroke-width="1.0" stroke-linejoin="miter"/>
<polygon points="425.7,498.8 422.3,505.4 429.1,505.4" fill="none" stroke="#1f6b4c" stroke-width="1.0" stroke-linejoin="miter"/>
<path d="M309.75 450.4V484M306.55 450.4H312.95M306.55 484H312.95M348.4 456.4V496.4M345.2 456.4H351.6M345.2 496.4H351.6M387.05 451.6V494.4M383.85 451.6H390.25M383.85 494.4H390.25M425.7 441.1V487M422.5 441.1H428.9M422.5 487H428.9" stroke="#e69c34" stroke-width="0.8" fill="none"/>
<path d="M271.1 513L309.75 469L348.4 476L387.05 472L425.7 465.1" stroke="#e69c34" stroke-width="1.4" fill="none" stroke-linejoin="round"/>
<rect x="268.1" y="510" width="6" height="6" fill="none" stroke="#e69c34" stroke-width="1.0"/>
<rect x="306.75" y="466" width="6" height="6" fill="none" stroke="#e69c34" stroke-width="1.0"/>
<rect x="345.4" y="473" width="6" height="6" fill="none" stroke="#e69c34" stroke-width="1.0"/>
<rect x="384.05" y="469" width="6" height="6" fill="none" stroke="#e69c34" stroke-width="1.0"/>
<rect x="422.7" y="462.1" width="6" height="6" fill="none" stroke="#e69c34" stroke-width="1.0"/>
<path d="M309.75 519V550.4M306.55 519H312.95M306.55 550.4H312.95M348.4 522.2V557M345.2 522.2H351.6M345.2 557H351.6M387.05 523V558M383.85 523H390.25M383.85 558H390.25M425.7 520.5V560.2M422.5 520.5H428.9M422.5 560.2H428.9" stroke="#274b77" stroke-width="0.8" fill="none"/>
<path d="M271.1 513L309.75 534.4L348.4 539.6L387.05 539.6L425.7 540.4" stroke="#274b77" stroke-width="1.4" fill="none" stroke-linejoin="round"/>
<circle cx="271.1" cy="513" r="3" fill="none" stroke="#274b77" stroke-width="1.0"/>
<circle cx="309.75" cy="534.4" r="3" fill="none" stroke="#274b77" stroke-width="1.0"/>
<circle cx="348.4" cy="539.6" r="3" fill="none" stroke="#274b77" stroke-width="1.0"/>
<circle cx="387.05" cy="539.6" r="3" fill="none" stroke="#274b77" stroke-width="1.0"/>
<circle cx="425.7" cy="540.4" r="3" fill="none" stroke="#274b77" stroke-width="1.0"/>
<rect x="268" y="509.9" width="6.2" height="6.2" fill="none" stroke="#2c2a3c" stroke-width="1.1"/>
<path d="M309.75 438.4V444.8M307.95 440.4H311.55" stroke="#222" stroke-width="0.9" fill="none"/>
<path d="M348.4 446.4V452.8M346.6 448.4H350.2" stroke="#222" stroke-width="0.9" fill="none"/>
<path d="M387.05 442.8V449.2M385.25 444.8H388.85" stroke="#222" stroke-width="0.9" fill="none"/>
<path d="M425.7 428.6V435M423.9 430.6H427.5" stroke="#222" stroke-width="0.9" fill="none"/>
<g font-family="Liberation Sans, sans-serif" font-size="7.4" fill="#1a1a1a">
<path d="M447.7 485.5H459.4" stroke="#274b77" stroke-width="1.4"/>
<circle cx="453.6" cy="485.5" r="2.9" fill="none" stroke="#274b77" stroke-width="1.0"/>
<text x="462.9" y="487.9" textLength="23" lengthAdjust="spacingAndGlyphs">Control</text>
<path d="M447.7 497H459.4" stroke="#e69c34" stroke-width="1.4"/>
<rect x="450.7" y="494.1" width="5.8" height="5.8" fill="none" stroke="#e69c34" stroke-width="1.0"/>
<text x="462.9" y="499.4" textLength="20.4" lengthAdjust="spacingAndGlyphs">+RBC</text>
<path d="M447.7 508.5H459.4" stroke="#1f6b4c" stroke-width="1.4"/>
<polygon points="453.6,504.91 450.3,511.29 456.9,511.29" fill="none" stroke="#1f6b4c" stroke-width="1.0" stroke-linejoin="miter"/>
<text x="462.9" y="510.9" textLength="33" lengthAdjust="spacingAndGlyphs">GPA-RBC</text>
<path d="M447.7 519.9H459.4" stroke="#5a2a6a" stroke-width="1.4"/>
<path d="M450.7 517L456.5 522.8M450.7 522.8L456.5 517" stroke="#5a2a6a" stroke-width="1.0" fill="none"/>
<text x="462.9" y="522.3" textLength="33" lengthAdjust="spacingAndGlyphs">Neur-RBC</text>
</g>
<rect x="0.5" y="0.5" width="519" height="601" fill="none" stroke="#5a5a5a" stroke-width="1"/>
</svg>
</body></html>
